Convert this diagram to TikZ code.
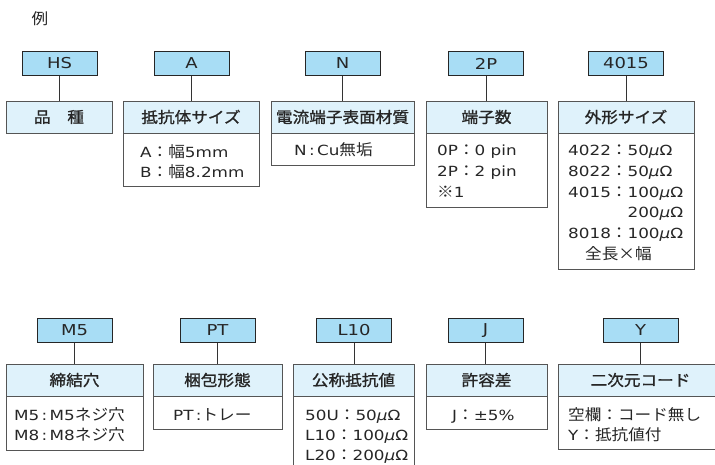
\documentclass[tikz,border=0pt]{standalone}
\usepackage{fontspec}
\setmainfont{DejaVu Sans}[FakeStretch=1.2]
\newfontfamily\jpf{Noto Sans CJK JP}[FakeStretch=1.08,Scale=1.1]
\newfontfamily\jph{Noto Sans CJK JP}[FakeStretch=1.08,Scale=1.1,FakeBold=1.2]
\newcommand\jp[1]{{\jpf #1}}
\newcommand\hd[1]{{\jph #1}}
\newcommand\uO{\textit{μ}Ω}
\definecolor{codeblue}{HTML}{A8DDF5}
\definecolor{hdrblue}{HTML}{DFF2FB}
\definecolor{txtgrey}{HTML}{262626}
\definecolor{edgegrey}{HTML}{555555}
\tikzset{
  base/.style={font=\fontsize{14}{20}\selectfont, text=txtgrey},
  code/.style={base, font=\fontsize{15}{20}\selectfont, draw=black!85, line width=0.9pt, fill=codeblue, minimum width=75pt, minimum height=24pt, inner sep=0pt},
  hdr/.style={base, draw=edgegrey, line width=0.9pt, fill=hdrblue, minimum height=32pt, inner sep=0pt},
  bodybox/.style={draw=edgegrey, line width=0.9pt, fill=white, inner sep=0pt, anchor=north},
  txt/.style={base, inner sep=0pt, anchor=base west},
  conn/.style={draw=black!80, line width=0.8pt},
}
\begin{document}
\begin{tikzpicture}[x=1pt,y=-1pt]
\clip (0,0) rectangle (715,464);
\fill[white] (0,0) rectangle (715,464);
\node[base] (rei) at (40,19) {\jp{例}};
% ---------- top row ----------
\node[code] (c1) at (59.5,63.5) {HS};
\node[hdr, minimum width=106pt] (h1) at (59,117) {\hd{品　種}};
\node[code] (c2) at (191.5,63.5) {A};
\node[hdr, minimum width=136pt] (h2) at (191,117) {\hd{抵抗体サイズ}};
\node[bodybox, minimum width=136pt, minimum height=53pt] (b2) at (h2.south) {};
\node[code] (c3) at (342.5,63.5) {N};
\node[hdr, minimum width=143pt] (h3) at (342.5,117) {\hd{電流端子表面材質}};
\node[bodybox, minimum width=143pt, minimum height=32pt] (b3) at (h3.south) {};
\node[code] (c4) at (486,63.5) {2P};
\node[hdr, minimum width=121pt] (h4) at (486.5,117) {\hd{端子数}};
\node[bodybox, minimum width=121pt, minimum height=74pt] (b4) at (h4.south) {};
\node[code] (c5) at (626,63.5) {4015};
\node[hdr, minimum width=136pt] (h5) at (626,117) {\hd{外形サイズ}};
\node[bodybox, minimum width=136pt, minimum height=136pt] (b5) at (h5.south) {};
% ---------- bottom row ----------
\node[code] (d1) at (74.5,330.5) {M5};
\node[hdr, minimum width=137pt] (k1) at (74.5,380) {\hd{締結穴}};
\node[bodybox, minimum width=137pt, minimum height=54pt] (e1) at (k1.south) {};
\node[code] (d2) at (217.5,330.5) {PT};
\node[hdr, minimum width=129pt] (k2) at (217.5,380) {\hd{梱包形態}};
\node[bodybox, minimum width=129pt, minimum height=33pt] (e2) at (k2.south) {};
\node[code] (d3) at (354,330.5) {L10};
\node[hdr, minimum width=121pt] (k3) at (353.5,380) {\hd{公称抵抗値}};
\node[bodybox, minimum width=121pt, minimum height=90pt] (e3) at (k3.south) {};
\node[code] (d4) at (485.5,330.5) {J};
\node[hdr, minimum width=121pt] (k4) at (486.5,380) {\hd{許容差}};
\node[bodybox, minimum width=121pt, minimum height=33pt] (e4) at (k4.south) {};
\node[code] (d5) at (640.5,330.5) {Y};
\node[hdr, minimum width=165pt] (k5) at (640.5,380) {\hd{二次元コード}};
\node[bodybox, minimum width=165pt, minimum height=53pt] (e5) at (k5.south) {};
% ---------- connectors ----------
\foreach \c/\h in {c1/h1,c2/h2,c3/h3,c4/h4,c5/h5,d1/k1,d2/k2,d3/k3,d4/k4,d5/k5}
  \draw[conn] (\c.south) -- (\c.south |- \h.north);
% ---------- body texts ----------
\node[txt] (ta1) at (140,157) {A\jp{：幅}5mm};
\node[txt] (ta2) at (140,177) {B\jp{：幅}8.2mm};
\node[txt] (tn1) at (294,155.5) {N\,:\,Cu\jp{無垢}};
\node[txt] (tp1) at (437,155.5) {0P\jp{：}0 pin};
\node[txt] (tp2) at (437,176.5) {2P\jp{：}2 pin};
\node[txt] (tp3) at (437,197) {\jp{※}1};
\node[txt] (ts1) at (568,155.5) {4022\jp{：}50\uO};
\node[txt] (ts2) at (568,176.5) {8022\jp{：}50\uO};
\node[txt] (ts3) at (568,197.2) {4015\jp{：}100\uO};
\node[txt] (ts4) at (568,217.8) {\phantom{4015\jp{：}}200\uO};
\node[txt] (ts5) at (568,238.4) {8018\jp{：}100\uO};
\node[txt] (ts6) at (585,259) {\jp{全長×幅}};
\node[txt] (tm1) at (14,420) {M5\,:\,M5\jp{ネジ穴}};
\node[txt] (tm2) at (14,440) {M8\,:\,M8\jp{ネジ穴}};
\node[txt] (tt1) at (173,420) {PT\,:\jp{トレー}};
\node[txt] (tl1) at (305,420) {50U\jp{：}50\uO};
\node[txt] (tl2) at (305,440) {L10\jp{：}100\uO};
\node[txt] (tl3) at (305,460) {L20\jp{：}200\uO};
\node[txt] (tj1) at (452,420) {J\jp{：}±5\%};
\node[txt] (ty1) at (568,420) {\jp{空欄：コード無し}};
\node[txt] (ty2) at (568,440) {Y\jp{：抵抗値付}};
\end{tikzpicture}
\end{document}
